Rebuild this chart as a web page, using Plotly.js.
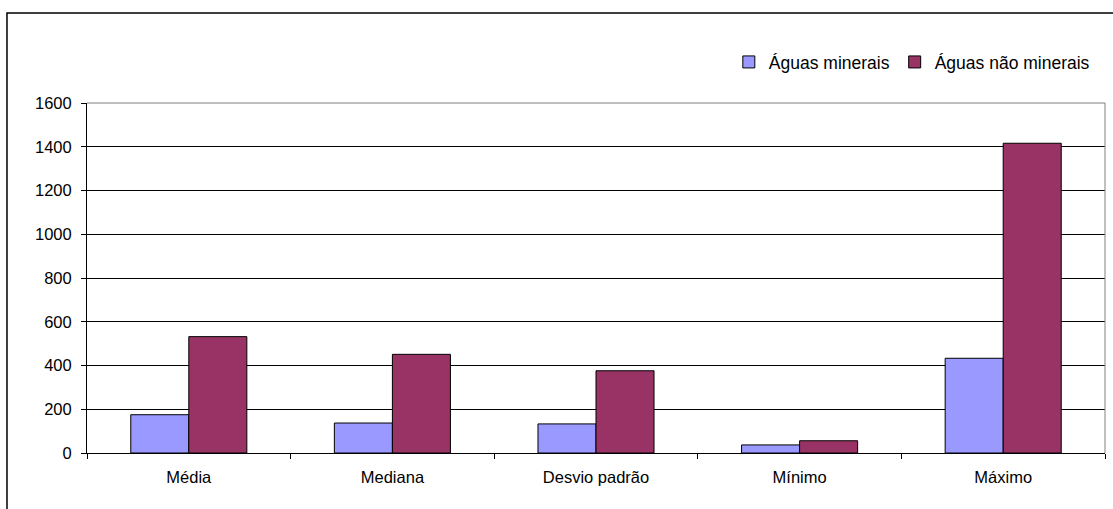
<!DOCTYPE html>
<html>
<head>
<meta charset="utf-8">
<script src="https://cdn.plot.ly/plotly-3.0.1.min.js"></script>
<style>
  html, body { margin: 0; padding: 0; background: #fff; }
  #chart { width: 1113px; height: 509px; }
</style>
</head>
<body>
<div id="chart"></div>
<script>
// Summary statistics per water type
const categories = ['Média', 'Mediana', 'Desvio padrão', 'Mínimo', 'Máximo'];
const seriesNames = ['Águas minerais', 'Águas não minerais'];
const mineralValues = [175, 137, 133, 37, 433];
const nonMineralValues = [532, 451, 376, 56, 1416];
const yTickValues = [0, 200, 400, 600, 800, 1000, 1200, 1400, 1600];

const fontFamily = '"Liberation Sans", Arial, sans-serif';

const traces = [
  {
    type: 'bar',
    name: seriesNames[0],
    x: categories,
    y: mineralValues,
    marker: { color: '#9999FF', line: { color: '#000000', width: 1 } },
    hoverinfo: 'x+y+name'
  },
  {
    type: 'bar',
    name: seriesNames[1],
    x: categories,
    y: nonMineralValues,
    marker: { color: '#993366', line: { color: '#000000', width: 1 } },
    hoverinfo: 'x+y+name'
  }
];

const layout = {
  width: 1113,
  height: 509,
  margin: { l: 87, r: 8, t: 103, b: 56, pad: 0 },
  paper_bgcolor: '#ffffff',
  plot_bgcolor: '#ffffff',
  font: { family: fontFamily, size: 16.5, color: '#000000' },
  barmode: 'group',
  bargap: 0.43,
  bargroupgap: 0,
  showlegend: true,
  legend: {
    orientation: 'h',
    x: 0.99,
    xanchor: 'right',
    y: 1.117,
    yanchor: 'middle',
    font: { family: fontFamily, size: 17.5, color: '#000000' },
    bgcolor: 'rgba(0,0,0,0)',
    traceorder: 'normal'
  },
  xaxis: {
    type: 'category',
    showgrid: false,
    showline: true,
    linecolor: '#000000',
    linewidth: 1,
    ticks: 'outside',
    tickson: 'boundaries',
    ticklen: 5,
    tickcolor: '#000000',
    ticklabelstandoff: 9,
    tickfont: { family: fontFamily, size: 16.5, color: '#000000' },
    fixedrange: true
  },
  yaxis: {
    range: [0, 1600],
    tickvals: yTickValues,
    ticktext: yTickValues.map(String),
    showgrid: true,
    gridcolor: '#000000',
    gridwidth: 1,
    showline: true,
    linecolor: '#000000',
    linewidth: 1,
    zeroline: false,
    ticks: 'outside',
    ticklen: 5,
    tickcolor: '#000000',
    ticklabelstandoff: 6,
    tickfont: { family: fontFamily, size: 16.5, color: '#000000' },
    fixedrange: true
  },
  shapes: [
    // grey frame on the top and right of the plotting area
    { type: 'line', xref: 'paper', yref: 'paper', x0: 0, x1: 1, y0: 1, y1: 1,
      line: { color: '#808080', width: 1 }, layer: 'above' },
    { type: 'line', xref: 'paper', yref: 'paper', x0: 1, x1: 1, y0: 0, y1: 1,
      line: { color: '#808080', width: 1 }, layer: 'above' },
    // outer chart border
    { type: 'rect', xref: 'paper', yref: 'paper',
      x0: -0.0786, x1: 1.2, y0: -0.5, y1: 1.257,
      line: { color: '#000000', width: 1.5 }, fillcolor: 'rgba(0,0,0,0)', layer: 'above' }
  ]
};

Plotly.newPlot('chart', traces, layout, { displayModeBar: false });
</script>
</body>
</html>
